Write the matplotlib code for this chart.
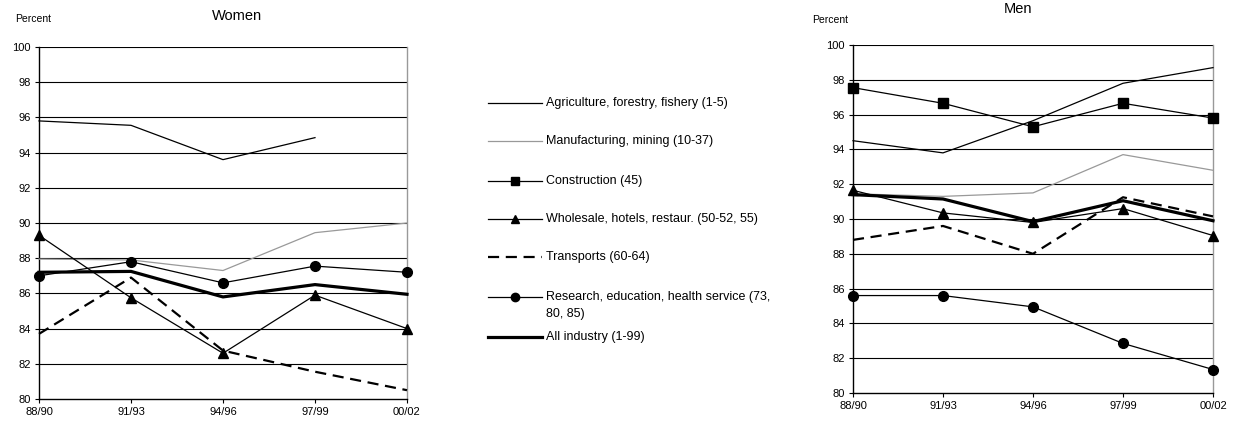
import matplotlib
matplotlib.use("Agg")
import matplotlib.pyplot as plt
import numpy as np
from matplotlib.lines import Line2D

plt.rcParams['font.family'] = ['Liberation Sans', 'DejaVu Sans']

periods = ["88/90", "91/93", "94/96", "97/99", "00/02"]
yticks = [80, 82, 84, 86, 88, 90, 92, 94, 96, 98, 100]

series_names = [
    "Agriculture, forestry, fishery (1-5)",
    "Manufacturing, mining (10-37)",
    "Construction (45)",
    "Wholesale, hotels, restaur. (50-52, 55)",
    "Transports (60-64)",
    "Research, education, health service (73,\n80, 85)",
    "All industry (1-99)",
]

nan = np.nan
women_agriculture = [95.8, 95.55, 93.6, 94.85, nan]
women_manufacturing = [87.95, 87.9, 87.3, 89.45, 90.0]
women_construction = [nan, nan, nan, nan, nan]
women_wholesale = [89.3, 85.75, 82.6, 85.9, 84.0]
women_transports = [83.7, 86.9, 82.75, 81.55, 80.5]
women_research = [87.0, 87.8, 86.6, 87.55, 87.2]
women_all = [87.2, 87.25, 85.8, 86.5, 85.95]

men_agriculture = [94.5, 93.8, 95.65, 97.8, 98.7]
men_manufacturing = [91.45, 91.3, 91.5, 93.7, 92.8]
men_construction = [97.55, 96.65, 95.3, 96.65, 95.8]
men_wholesale = [91.65, 90.35, 89.8, 90.6, 89.05]
men_transports = [88.8, 89.6, 88.0, 91.25, 90.15]
men_research = [85.6, 85.6, 84.95, 82.85, 81.35]
men_all = [91.4, 91.15, 89.85, 91.05, 89.9]

styles = [
    dict(color="black", lw=0.9, ls="-", marker=None),
    dict(color="#999999", lw=0.9, ls="-", marker=None),
    dict(color="black", lw=0.9, ls="-", marker="s", ms=7),
    dict(color="black", lw=0.9, ls="-", marker="^", ms=7),
    dict(color="black", lw=1.6, ls=(0, (5, 3)), marker=None),
    dict(color="black", lw=0.9, ls="-", marker="o", ms=7),
    dict(color="black", lw=2.3, ls="-", marker=None),
]

women = [women_agriculture, women_manufacturing, women_construction, women_wholesale,
         women_transports, women_research, women_all]
men = [men_agriculture, men_manufacturing, men_construction, men_wholesale,
       men_transports, men_research, men_all]

W, H = 1240, 428
fig = plt.figure(figsize=(W / 100, H / 100), dpi=100)


def px_axes(l, r, t, b):
    return fig.add_axes([l / W, 1 - b / H, (r - l) / W, (b - t) / H])


def draw(ax, data):
    x = np.arange(len(periods))
    for vals, st in zip(data, styles):
        ax.plot(x, vals, color=st["color"], lw=st["lw"], ls=st["ls"],
                marker=st["marker"], ms=st.get("ms", 0), mfc="black", mec="black",
                clip_on=False, zorder=3)
    ax.set_xlim(0, 4)
    ax.set_ylim(80, 100)
    ax.set_xticks(x)
    ax.set_xticklabels(periods)
    ax.set_yticks(yticks)
    ax.set_yticklabels([str(v) for v in yticks])
    for v in yticks[1:]:
        ax.axhline(v, color="black", lw=0.8, zorder=1)
    ax.spines["top"].set_visible(False)
    ax.spines["right"].set_color("#999999")
    ax.spines["right"].set_linewidth(1.0)
    ax.spines["left"].set_linewidth(1.0)
    ax.spines["bottom"].set_linewidth(1.0)
    ax.tick_params(direction="out", length=3, width=0.8, labelsize=8, pad=3, colors="black")


ax1 = px_axes(39, 407, 47, 399)
draw(ax1, women)
ax2 = px_axes(853, 1213, 45, 393)
draw(ax2, men)

fig.text(237 / W, 1 - 16 / H, "Women", ha="center", va="center", fontsize=10.5)
fig.text(1018 / W, 1 - 9 / H, "Men", ha="center", va="center", fontsize=10.5)
fig.text(15 / W, 1 - 19 / H, "Percent", ha="left", va="center", fontsize=7.5)
fig.text(812 / W, 1 - 20 / H, "Percent", ha="left", va="center", fontsize=7.5)

# legend
rows_y = [103, 141, 181, 219, 257, 297, 337]
for name, st, yy in zip(series_names, styles, rows_y):
    yf = 1 - yy / H
    fig.add_artist(Line2D([488 / W, 542 / W], [yf, yf], color=st["color"], lw=st["lw"],
                          ls=st["ls"], transform=fig.transFigure))
    if st["marker"]:
        fig.add_artist(Line2D([515 / W], [yf], marker=st["marker"], ms=6, color="black",
                              mfc="black", transform=fig.transFigure))
    lines = name.split("\n")
    for i, ln in enumerate(lines):
        fig.text(546 / W, 1 - (yy + 17 * i) / H, ln, ha="left", va="center", fontsize=9)

fig.savefig("out.png", dpi=100)
